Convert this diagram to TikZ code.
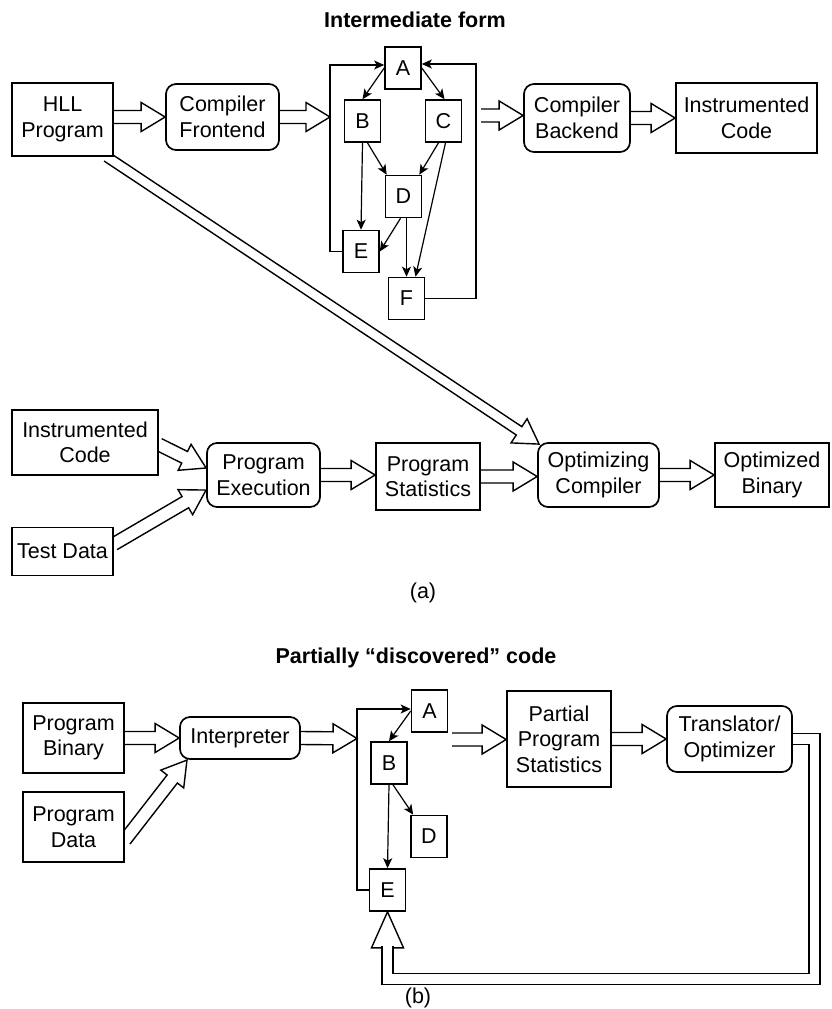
\documentclass[tikz,border=0pt]{standalone}
\usepackage{fontspec}
\setmainfont{Liberation Sans}
\usetikzlibrary{arrows.meta,calc,backgrounds}
\newcommand{\fatw}{6.5}

\begin{document}
\begin{tikzpicture}[x=1pt, y=-1pt,
  every node/.style={font=\fontsize{21.5}{25.5}\selectfont},
  ttl/.style={font=\fontsize{21.5}{25.5}\selectfont\bfseries},
  blk/.style={draw, line width=1.7pt, fill=white, align=center, inner sep=0pt},
  rblk/.style={blk, rounded corners=10pt},
  cell/.style={draw, line width=1.6pt, fill=white, inner sep=0pt, minimum width=36pt, minimum height=42pt},
  flow/.style={line width=1.2pt, -{Stealth[length=10pt, width=9pt, inset=2.5pt]}},
  shaft/.code={\renewcommand{\fatw}{#1}},
  fat/.style={draw, line width=1.4pt, fill=white, to path={
      let \p1=(\tikztostart), \p2=(\tikztotarget),
          \n1={atan2(\y2-\y1,\x2-\x1)}, \n2={veclen(\x2-\x1,\y2-\y1)} in
      [shift={(\p1)}, rotate=\n1]
      (0,\fatw) -- ({\n2-24},\fatw) -- ({\n2-24},14.5) -- (\n2,0)
      -- ({\n2-24},-14.5) -- ({\n2-24},-\fatw) -- (0,-\fatw)}},
]
\useasboundingbox (0,0) rectangle (832,1009);

% (a) profiling with an instrumented build
\node[ttl] (ttla) at (415,20) {Intermediate form};
\node[blk, minimum width=101pt, minimum height=73pt] (hll) at (62.5,119.5) {HLL\\Program};
\node[rblk, minimum width=113pt, minimum height=66pt] (cfe) at (222.5,117) {Compiler\\Frontend};
\node[rblk, minimum width=106pt, minimum height=68pt] (cbe) at (577,118) {Compiler\\Backend};
\node[blk, minimum width=141pt, minimum height=70pt] (ic1) at (746.5,118) {Instrumented\\Code};

% control flow graph
\node[cell] (na) at (403,68) {A};
\node[cell] (nb) at (362.5,121) {B};
\node[cell] (nc) at (443.5,121) {C};
\node[cell] (nd) at (403.5,196.5) {D};
\node[cell] (ne) at (361,251.5) {E};
\node[cell] (nf) at (406.5,298.5) {F};
\coordinate (lpl) at (330,65);
\coordinate (lpr) at (476,64);
\coordinate (cfgin) at (330,117);
\coordinate (cfgout) at (481,115.5);

\draw[flow] (na.west) -- (nb.north);
\draw[flow] (na.east) -- ([xshift=1pt]nc.north);
\draw[flow] ([xshift=5pt]nb.south) -- ([xshift=2pt]nd.north west);
\draw[flow] ([xshift=-5pt]nc.south) -- ([xshift=-3pt]nd.north east);
\draw[flow] (nb.south) -- (ne.north);
\draw[flow] ([xshift=2pt]nc.south) -- ([xshift=9pt]nf.north);
\draw[flow] ([xshift=-3pt]nd.south) -- (ne.east);
\draw[flow] ([xshift=3pt]nd.south) -- (nf.north);
\draw[flow] (ne.west) -| (lpl) -- (lpl -| na.west);
\draw[flow] (nf.east) -| (lpr) -- (lpr -| na.east);

\node[blk, minimum width=146pt, minimum height=65pt] (ic2) at (85,442.5) {Instrumented\\Code};
\node[blk, minimum width=101pt, minimum height=48pt] (td) at (62.5,551.5) {Test Data};
\node[rblk, minimum width=113pt, minimum height=64pt] (pe) at (263.5,475) {Program\\Execution};
\node[blk, minimum width=104pt, minimum height=67pt] (ps) at (428,476.5) {Program\\Statistics};
\node[rblk, minimum width=121pt, minimum height=64pt] (oc) at (598.5,475) {Optimizing\\Compiler};
\node[blk, minimum width=114pt, minimum height=64pt] (ob) at (772,475) {Optimized\\Binary};
\node (lbla) at (423,593) {(a)};

% (b) profiling while interpreting
\node[ttl] (ttlb) at (416,658) {Partially “discovered” code};
\node[blk, minimum width=101pt, minimum height=70pt] (pb) at (73.5,738) {Program\\Binary};
\node[blk, minimum width=101pt, minimum height=70pt] (pd) at (73.5,827) {Program\\Data};
\node[rblk, minimum width=120pt, minimum height=42pt] (ip) at (240,738) {Interpreter};
\node[cell] (ma) at (429.5,711) {A};
\node[cell] (mb) at (389,763) {B};
\node[cell] (md) at (429,836.5) {D};
\node[cell] (me) at (387.5,890) {E};
\node[blk, minimum width=104pt, minimum height=96pt] (pps) at (559,739) {Partial\\Program\\Statistics};
\node[rblk, minimum width=125pt, minimum height=66pt] (tro) at (729.5,739) {Translator/\\Optimizer};
\node (lblb) at (418,998) {(b)};
\coordinate (lpb) at (357,709);
\coordinate (cfgin2) at (357,738.5);
\coordinate (cfgout2) at (452,739.5);
\coordinate (fbk) at (814.5,979);

\draw[flow] (ma.west) -- (mb.north);
\draw[flow] ([xshift=4pt]mb.south) -- ([xshift=3pt]md.north west);
\draw[flow] (mb.south) -- (me.north);
\draw[flow] (me.west) -| (lpb) -- (lpb -| ma.west);

% wide arrows
\begin{scope}[on background layer]
  \draw[fat] (hll.east |- cfe.west) to (cfe.west);
  \draw[fat] (cfe.east) to (cfgin);
  \draw[fat] (cfgout) to (cfgout -| cbe.west);
  \draw[fat] (cbe.east) to (cbe.east -| ic1.west);
  \draw[fat, shaft=5] ([xshift=-7pt]hll.south east) to ([shift={(2pt,-2pt)}]oc.north west);
  \draw[fat] ([yshift=-2pt]ic2.east) to ([yshift=7pt]pe.west);
  \draw[fat] ([yshift=7.5pt]td.east) to ([yshift=-15pt]pe.west);
  \draw[fat] (pe.east) to (pe.east -| ps.west);
  \draw[fat] (ps.east) to (ps.east -| oc.west);
  \draw[fat] (oc.east) to (oc.east -| ob.west);
  \draw[fat] (pb.east) to (pb.east -| ip.west);
  \draw[fat] ([yshift=-13pt]pd.east) to ([xshift=8pt]ip.south west);
  \draw[fat] (ip.east) to (cfgin2);
  \draw[fat] (cfgout2) to (cfgout2 -| pps.west);
  \draw[fat] (pps.east) to (pps.east -| tro.west);
  % feedback to E
  \draw[line width=1.4pt, fill=white] ([shift={(-16pt,-36pt)}]me.south) -- (me.south) -- ([shift={(16pt,-36pt)}]me.south) -- cycle;
  \draw[line width=1.4pt, double, double distance=9.6pt] (tro.east) -| (fbk) -| ([yshift=-34pt]me.south);
\end{scope}
\end{tikzpicture}
\end{document}
